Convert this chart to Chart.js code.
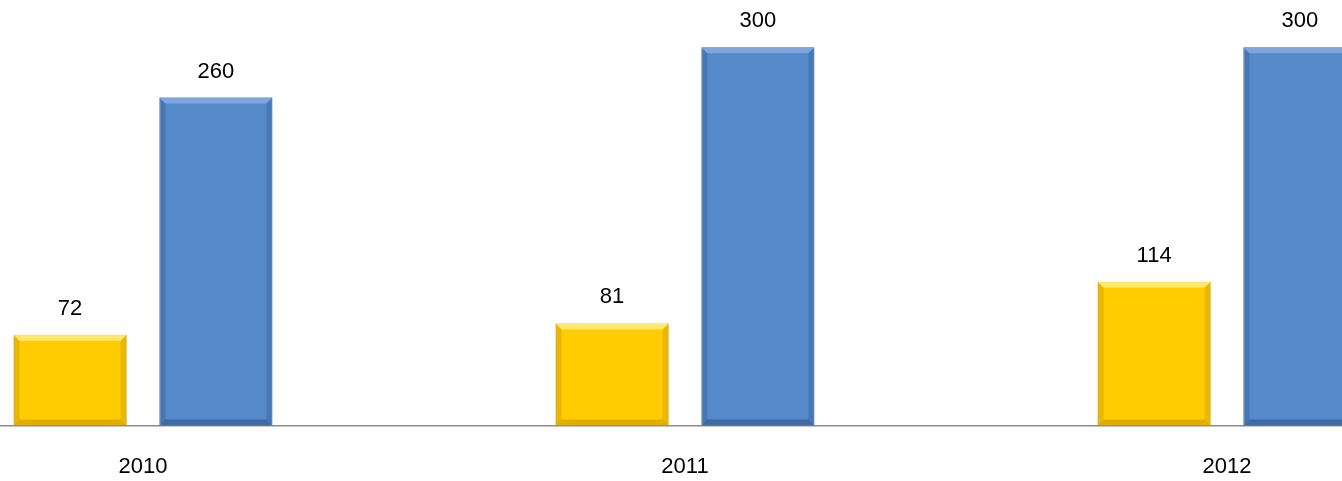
<!DOCTYPE html>
<html>
<head>
<meta charset="utf-8">
<script src="https://cdn.jsdelivr.net/npm/chart.js@4"></script>
<style>
  html, body { margin: 0; padding: 0; background: #fff; overflow: hidden; }
  #wrap { position: relative; width: 1342px; height: 481px; overflow: hidden; }
  #barChart { position: absolute; left: -128px; top: 0; }
</style>
</head>
<body>
<div id="wrap">
  <canvas id="barChart" width="1626" height="510"></canvas>
</div>
<script>
const years = ['2010', '2011', '2012'];
const yellowValues = [72, 81, 114];
const blueValues = [260, 300, 300];

// bevel look: darker sides, light top strip
const bevelPlugin = {
  id: 'bevel',
  afterDatasetsDraw(chart) {
    const c = chart.ctx;
    chart.data.datasets.forEach((ds, i) => {
      const meta = chart.getDatasetMeta(i);
      meta.data.forEach(bar => {
        const left = bar.x - bar.width / 2;
        const right = bar.x + bar.width / 2;
        const top = bar.y;
        const bottom = bar.base;
        const e = 6;
        c.save();
        c.fillStyle = ds.edgeDark;
        c.beginPath();
        c.moveTo(left, top); c.lineTo(left + e, top + e); c.lineTo(left + e, bottom - e); c.lineTo(left, bottom);
        c.closePath(); c.fill();
        c.beginPath();
        c.moveTo(right, top); c.lineTo(right - e, top + e); c.lineTo(right - e, bottom - e); c.lineTo(right, bottom);
        c.closePath(); c.fill();
        c.fillStyle = ds.edgeLight;
        c.beginPath();
        c.moveTo(left, top); c.lineTo(right, top); c.lineTo(right - e, top + e); c.lineTo(left + e, top + e);
        c.closePath(); c.fill();
        c.fillStyle = ds.edgeBottom;
        c.beginPath();
        c.moveTo(left, bottom); c.lineTo(right, bottom); c.lineTo(right - e, bottom - e); c.lineTo(left + e, bottom - e);
        c.closePath(); c.fill();
        c.restore();
      });
    });
  }
};

const valueLabels = {
  id: 'valueLabels',
  afterDatasetsDraw(chart) {
    const c = chart.ctx;
    c.save();
    c.font = '22px "Liberation Sans", Arial, sans-serif';
    c.fillStyle = '#000';
    c.textAlign = 'center';
    c.textBaseline = 'alphabetic';
    chart.data.datasets.forEach((ds, i) => {
      chart.getDatasetMeta(i).data.forEach((bar, j) => {
        c.fillText(ds.data[j], bar.x, bar.y - 20);
      });
    });
    c.restore();
  }
};

new Chart(document.getElementById('barChart'), {
  type: 'bar',
  data: {
    labels: years,
    datasets: [{
      data: yellowValues,
      backgroundColor: '#FFCC00',
      edgeDark: 'rgba(200,150,0,0.4)',
      edgeLight: 'rgba(255,235,120,0.9)',
      edgeBottom: 'rgba(180,130,0,0.4)',
      borderColor: '#C89A00',
      borderWidth: 1,
      barPercentage: 0.775,
      categoryPercentage: 0.538
    }, {
      data: blueValues,
      backgroundColor: '#5689C9',
      edgeDark: 'rgba(40,80,140,0.3)',
      edgeLight: 'rgba(130,170,225,0.9)',
      edgeBottom: 'rgba(30,60,110,0.4)',
      borderColor: '#3D679C',
      borderWidth: 1,
      barPercentage: 0.775,
      categoryPercentage: 0.538
    }]
  },
  options: {
    responsive: false,
    animation: false,
    layout: { padding: { top: 3, bottom: 2, left: 0, right: 0 } },
    plugins: {
      legend: { display: false },
      tooltip: { enabled: false }
    },
    scales: {
      x: {
        grid: { display: false, drawTicks: false },
        border: { color: '#8c8c8c', width: 1.5 },
        ticks: {
          color: '#000',
          padding: 28,
          font: { size: 22, family: '"Liberation Sans", Arial, sans-serif' }
        }
      },
      y: {
        display: false,
        min: 0,
        max: 335
      }
    }
  },
  plugins: [bevelPlugin, valueLabels]
});
</script>
</body>
</html>
